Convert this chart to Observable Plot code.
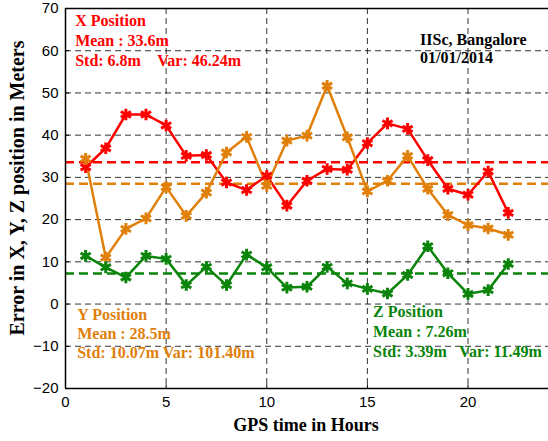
<!DOCTYPE html>
<html>
<head>
<meta charset="utf-8">
<script src="https://cdn.jsdelivr.net/npm/d3@7"></script>
<script src="https://cdn.jsdelivr.net/npm/@observablehq/plot@0.6"></script>
<style>
  html, body { margin: 0; padding: 0; background: #fff; }
  svg { display: block; }
</style>
</head>
<body>
<div id="chart"></div>
<script>
const hours = [1,2,3,4,5,6,7,8,9,10,11,12,13,14,15,16,17,18,19,20,21,22];
const xErr = [32.4,36.9,44.9,44.9,42.3,35.1,35.3,28.8,27.0,30.4,23.3,29.2,32.0,31.8,38.1,42.8,41.5,34.1,27.3,25.9,31.4,21.6];
const yErr = [34.4,11.0,17.8,20.3,27.7,20.9,26.4,35.9,39.6,28.0,38.7,39.9,51.7,39.5,26.7,29.2,35.1,27.3,21.1,18.7,17.9,16.4];
const zErr = [11.4,8.7,6.3,11.4,10.7,4.5,8.8,4.5,11.7,8.7,3.9,4.1,8.8,4.9,3.6,2.5,6.9,13.7,7.3,2.4,3.3,9.5];
const means = [33.6, 28.5, 7.26];
const seriesNames = ["X", "Y", "Z"];
const colors = ["#ff0000", "#e0800a", "#0a840a"];
const xTicks = [0,5,10,15,20];
const yTicks = [-20,-10,0,10,20,30,40,50,60,70];

const rows = [];
[xErr, yErr, zErr].forEach((arr, i) => arr.forEach((v, j) => rows.push({series: seriesNames[i], h: hours[j], v})));
const meanRows = means.map((m, i) => ({series: seriesNames[i], v: m}));
const colorOf = Object.fromEntries(seriesNames.map((s, i) => [s, colors[i]]));

const serif = "'Liberation Serif', 'Times New Roman', serif";
const textStyle = {fontFamily: serif, fontWeight: "bold", fontSize: 16, textAnchor: "start", lineAnchor: "middle"};

const chart = Plot.plot({
  width: 548,
  height: 441,
  marginLeft: 65,
  marginRight: 0,
  marginTop: 8,
  marginBottom: 53,
  style: {fontFamily: "'Liberation Sans', Arial, sans-serif", fontSize: "15px", color: "#000", background: "#fff"},
  x: {type: "linear", domain: [0, 24], label: null},
  y: {type: "linear", domain: [-20, 70], label: null},
  marks: [
    Plot.gridX(xTicks.filter(d => d > 0), {stroke: "#000", strokeOpacity: 0.8, strokeDasharray: "6,4"}),
    Plot.gridY(yTicks.filter(d => d > -20 && d < 70), {stroke: "#000", strokeOpacity: 0.8, strokeDasharray: "6,4"}),
    Plot.ruleY(meanRows, {y: "v", stroke: d => colorOf[d.series], strokeWidth: 2.5, strokeDasharray: "9,5"}),
    Plot.line(rows, {x: "h", y: "v", z: "series", stroke: d => colorOf[d.series], strokeWidth: 2.5}),
    Plot.dot(rows, {x: "h", y: "v", symbol: "asterisk", r: 5.5, stroke: d => colorOf[d.series], strokeWidth: 3}),
    Plot.ruleX([0], {stroke: "#000", strokeWidth: 1.5}),
    Plot.ruleY([-20], {stroke: "#000", strokeWidth: 1.5}),
    Plot.ruleY([70], {stroke: "#000", strokeWidth: 1.5}),
    Plot.ruleX(xTicks, {x: d => d, y1: -20, y2: -19.1, stroke: "#000", strokeWidth: 1}),
    Plot.ruleY(yTicks, {y: d => d, x1: 0, x2: 0.2, stroke: "#000", strokeWidth: 1}),
    Plot.axisX({ticks: xTicks, tickSize: 0, tickPadding: 8, fontSize: 15}),
    Plot.axisY({ticks: yTicks, tickSize: 0, tickPadding: 7, fontSize: 15}),
    // X annotation
    Plot.text(["X Position"], {...textStyle, x: 0.48, y: 67.0, text: d => d, fill: colors[0]}),
    Plot.text(["Mean : 33.6m"], {...textStyle, x: 0.48, y: 62.3, text: d => d, fill: colors[0]}),
    Plot.text(["Std: 6.8m"], {...textStyle, x: 0.48, y: 57.6, text: d => d, fill: colors[0]}),
    Plot.text(["Var: 46.24m"], {...textStyle, x: 4.56, y: 57.6, text: d => d, fill: colors[0]}),
    // location
    Plot.text(["IISc, Bangalore"], {...textStyle, x: 17.62, y: 62.5, text: d => d, fill: "#000"}),
    Plot.text(["01/01/2014"], {...textStyle, x: 17.62, y: 58.3, text: d => d, fill: "#000"}),
    // Y annotation
    Plot.text(["Y Position"], {...textStyle, x: 0.58, y: -2.65, text: d => d, fill: colors[1]}),
    Plot.text(["Mean : 28.5m"], {...textStyle, x: 0.58, y: -7.16, text: d => d, fill: colors[1]}),
    Plot.text(["Std: 10.07m Var: 101.40m"], {...textStyle, x: 0.58, y: -11.66, text: d => d, fill: colors[1]}),
    // Z annotation
    Plot.text(["Z Position"], {...textStyle, x: 15.28, y: -1.94, text: d => d, fill: colors[2]}),
    Plot.text(["Mean : 7.26m"], {...textStyle, x: 15.28, y: -6.68, text: d => d, fill: colors[2]}),
    Plot.text(["Std: 3.39m"], {...textStyle, x: 15.28, y: -11.4, text: d => d, fill: colors[2]}),
    Plot.text(["Var: 11.49m"], {...textStyle, x: 19.55, y: -11.4, text: d => d, fill: colors[2]})
  ]
});

const svg = d3.select(chart);
// axis titles
svg.append("text")
  .attr("x", 306).attr("y", 431)
  .attr("text-anchor", "middle")
  .style("font-family", serif).style("font-weight", "bold").style("font-size", "18px")
  .attr("fill", "#000")
  .text("GPS time in Hours");
svg.append("text")
  .attr("transform", "translate(24,188) rotate(-90)")
  .attr("text-anchor", "middle")
  .style("font-family", serif).style("font-weight", "bold").style("font-size", "20px")
  .attr("fill", "#000")
  .text("Error in X, Y, Z position in Meters");

document.getElementById("chart").appendChild(chart);
</script>
</body>
</html>
